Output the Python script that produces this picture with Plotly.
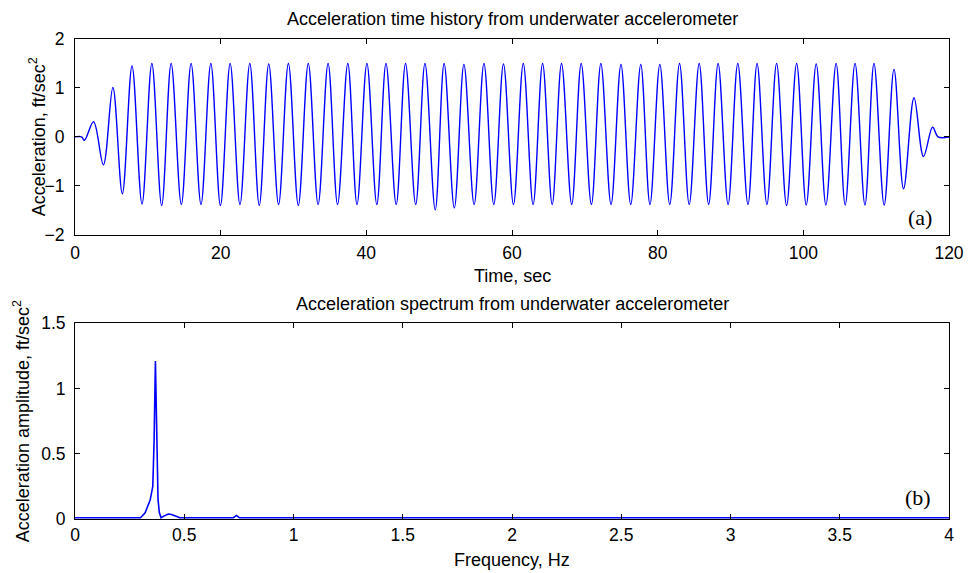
import plotly.graph_objects as go

# ---- Data ----
# (a) acceleration time history: extrema of each oscillation (time s, accel ft/s^2)
time_s = [0.0, 0.9, 1.3, 2.55, 3.9, 5.2, 6.5, 7.83, 9.2, 10.55, 11.9, 13.2, 14.6, 15.94, 17.3,
          18.65, 19.97, 21.3, 22.65, 24.0, 25.3, 26.6, 27.95, 29.3, 30.66, 32.03, 33.38,
          34.75, 36.05, 37.46, 38.72, 40.08, 41.44, 42.7, 44.1, 45.38, 46.78, 48.05, 49.46,
          50.68, 52.08, 53.4, 54.8, 56.15, 57.5, 58.83, 60.2, 61.55, 62.9, 64.2, 65.52,
          66.8, 68.2, 69.5, 70.9, 72.2, 73.6, 74.96, 76.3, 77.68, 78.94, 80.3, 81.66,
          83.0, 84.33, 85.7, 87.0, 88.3, 89.67, 91.0, 92.4, 93.65, 95.0, 96.33, 97.7,
          99.08, 100.4, 101.77, 103.1, 104.5, 105.75, 107.1, 108.46, 109.7, 111.1, 112.45,
          113.76, 115.2, 116.5, 117.75, 118.5, 120.0]
accel = [0.0, 0.0, -0.07, 0.31, -0.57, 1.01, -1.16, 1.45, -1.37, 1.50, -1.40, 1.50, -1.38, 1.50, -1.38,
         1.50, -1.40, 1.50, -1.38, 1.50, -1.40, 1.49, -1.38, 1.50, -1.40, 1.50, -1.38,
         1.50, -1.38, 1.50, -1.38, 1.50, -1.38, 1.50, -1.38, 1.50, -1.38, 1.50, -1.49,
         1.50, -1.45, 1.48, -1.38, 1.50, -1.38, 1.49, -1.38, 1.50, -1.38, 1.50, -1.38,
         1.50, -1.38, 1.50, -1.38, 1.50, -1.38, 1.48, -1.38, 1.48, -1.38, 1.48, -1.38,
         1.50, -1.38, 1.50, -1.38, 1.50, -1.38, 1.50, -1.38, 1.50, -1.38, 1.50, -1.40,
         1.50, -1.39, 1.49, -1.39, 1.50, -1.39, 1.50, -1.39, 1.50, -1.39, 1.38,
         -1.06, 0.80, -0.40, 0.20, 0.0, 0.0]

# (b) acceleration spectrum (frequency Hz, amplitude ft/s^2)
freq_hz = [0.0, 0.30, 0.321, 0.344, 0.356, 0.362, 0.368, 0.374, 0.380, 0.386, 0.394, 0.404,
           0.427, 0.442, 0.48, 0.725, 0.739, 0.752, 4.0]
amplitude = [0.01, 0.01, 0.048, 0.145, 0.25, 0.6, 1.21, 0.60, 0.15, 0.05, 0.01, 0.02,
             0.038, 0.035, 0.01, 0.01, 0.027, 0.01, 0.01]

x1_ticks = [0, 20, 40, 60, 80, 100, 120]
y1_ticks = [-2, -1, 0, 1, 2]
x2_ticks = [0, 0.5, 1, 1.5, 2, 2.5, 3, 3.5, 4]
x2_labels = ["0", "0.5", "1", "1.5", "2", "2.5", "3", "3.5", "4"]
y2_ticks = [0, 0.5, 1, 1.5]
y2_labels = ["0", "0.5", "1", "1.5"]

FONT = "Liberation Sans, Arial, sans-serif"
BLUE = "#0000ff"
TXT = 18
TICK = 17.5

fig = go.Figure()
fig.add_trace(go.Scatter(x=time_s, y=accel, mode="lines",
                         line=dict(color=BLUE, width=1.4, shape="spline", smoothing=1.0),
                         xaxis="x", yaxis="y", showlegend=False))
fig.add_trace(go.Scatter(x=freq_hz, y=amplitude, mode="lines",
                         line=dict(color=BLUE, width=1.6),
                         xaxis="x2", yaxis="y2", showlegend=False))

axis_common = dict(showgrid=False, zeroline=False, showline=True, linecolor="black",
                   linewidth=1, mirror="ticks", ticks="inside", ticklen=5,
                   tickcolor="black", tickwidth=1,
                   tickfont=dict(family=FONT, size=TICK, color="black"))

fig.update_layout(
    width=976, height=573,
    margin=dict(l=75, r=18, t=39, b=54),
    paper_bgcolor="white", plot_bgcolor="white",
    font=dict(family=FONT, size=TXT, color="black"),
    xaxis=dict(domain=[0, 1], range=[0, 120], tickvals=x1_ticks, anchor="y",
               ticklabelstandoff=2, **axis_common),
    yaxis=dict(domain=[0.592, 1], range=[-2, 2], tickvals=y1_ticks, anchor="x",
               ticklabelstandoff=6, **axis_common),
    xaxis2=dict(domain=[0, 1], range=[0, 4], tickvals=x2_ticks, ticktext=x2_labels,
                anchor="y2", ticklabelstandoff=0, **axis_common),
    yaxis2=dict(domain=[0, 0.408], range=[0, 1.5], tickvals=y2_ticks, ticktext=y2_labels,
                anchor="x2", ticklabelstandoff=5, **axis_common),
)

ann = [
    dict(text="Acceleration time history from underwater accelerometer", x=0.5, y=1.0417),
    dict(text="Time, sec", x=0.5, y=0.506),
    dict(text="Acceleration spectrum from underwater accelerometer", x=0.5, y=0.448),
    dict(text="Frequency, Hz", x=0.5, y=-0.085),
    dict(text="Acceleration, ft/sec<sup>2</sup>", x=-0.042, y=0.796, textangle=-90),
    dict(text="Acceleration amplitude, ft/sec<sup>2</sup>", x=-0.0617, y=0.204, textangle=-90),
]
for a in ann:
    fig.add_annotation(xref="paper", yref="paper", xanchor="center", yanchor="middle",
                       showarrow=False, font=dict(family=FONT, size=TXT, color="black"), **a)

fig.add_annotation(xref="paper", yref="paper", x=(929 - 75) / 883, y=(519 - 217) / 480,
                   text="(a)", showarrow=False, xanchor="center", yanchor="middle",
                   font=dict(family="Liberation Serif, Times New Roman, serif", size=22, color="black"))
fig.add_annotation(xref="paper", yref="paper", x=(927 - 75) / 883, y=(519 - 497) / 480,
                   text="(b)", showarrow=False, xanchor="center", yanchor="middle",
                   font=dict(family="Liberation Serif, Times New Roman, serif", size=22, color="black"))

fig.write_html("out.html")
